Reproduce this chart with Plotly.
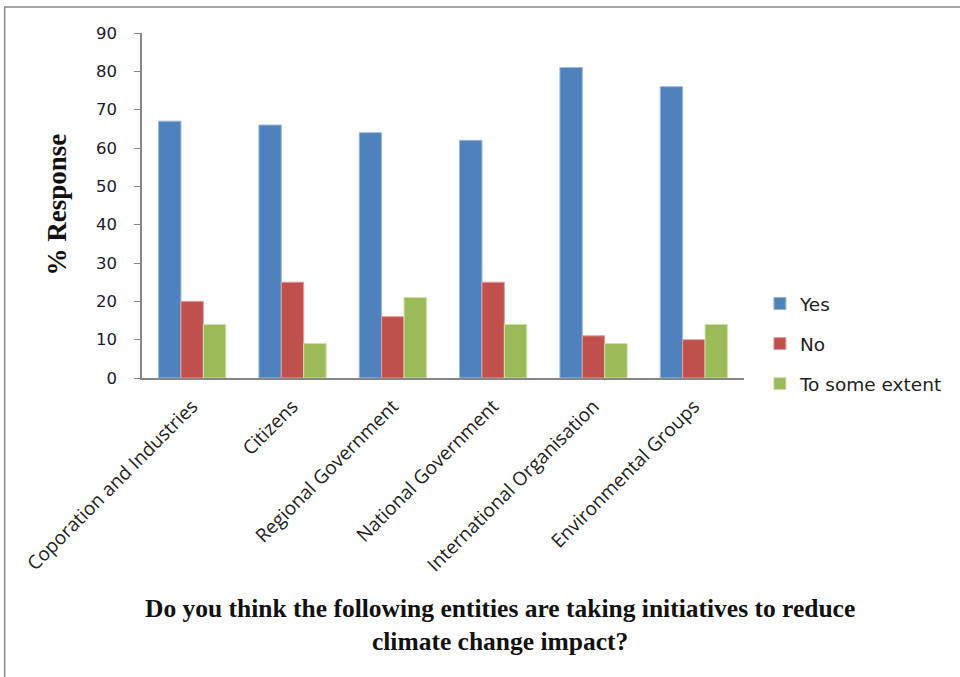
import plotly.graph_objects as go

categories = ["Coporation and Industries", "Citizens", "Regional Government",
              "National Government", "International Organisation", "Environmental Groups"]
yes_vals = [67, 66, 64, 62, 81, 76]
no_vals = [20, 25, 16, 25, 11, 10]
some_vals = [14, 9, 21, 14, 9, 14]
y_ticks = [0, 10, 20, 30, 40, 50, 60, 70, 80, 90]

series = [("Yes", yes_vals, "#4F81BD", "#9DB9DD"),
          ("No", no_vals, "#C0504D", "#E0A09E"),
          ("To some extent", some_vals, "#9BBB59", "#CFE0AE")]

fig = go.Figure()
for i, (name, vals, col, edge) in enumerate(series):
    fig.add_trace(go.Bar(x=categories, y=vals, name=name, legendgroup=str(i),
                         marker=dict(color=col, line=dict(color=edge, width=1))))

L, R, T, B = 142, 213, 33, 299
W, H = 960, 677
pw, ph = W - L - R, H - T - B

def px(x):
    return (x - L) / pw

def py(y):
    return (H - B - y) / ph

fig.update_layout(
    width=W, height=H,
    margin=dict(l=L, r=R, t=T, b=B),
    paper_bgcolor="white", plot_bgcolor="white",
    barmode="group", bargap=0.33, bargroupgap=0,
    font=dict(family="DejaVu Sans", size=14, color="#222"),
    showlegend=True,
    legend=dict(x=px(763), y=py(285), xanchor="left", yanchor="top",
                font=dict(size=18.5, family="DejaVu Sans", color="#222"),
                tracegroupgap=13, itemwidth=30, bgcolor="rgba(0,0,0,0)"),
    xaxis=dict(showline=True, linecolor="#868686", linewidth=1.5,
               ticks="", tickangle=-45, showgrid=False, ticklabelstandoff=8,
               tickfont=dict(size=19, family="Open Sans", color="#222")),
    yaxis=dict(range=[0, 90], tickvals=y_ticks, showline=True, linecolor="#868686",
               linewidth=1.5, ticks="outside", ticklen=6, tickcolor="#868686",
               showgrid=False, zeroline=False, ticklabelstandoff=14,
               tickfont=dict(size=16.5, family="DejaVu Sans", color="#1a1a2e")),
    shapes=[dict(type="rect", xref="paper", yref="paper",
                 x0=px(4), x1=px(1000), y0=py(720), y1=py(7),
                 line=dict(color="#8a8a8a", width=1.5), fillcolor="rgba(0,0,0,0)")],
    annotations=[
        dict(text="<b>% Response</b>", xref="paper", yref="paper",
             x=px(57), y=py(204), xanchor="center", yanchor="middle",
             textangle=-90, showarrow=False,
             font=dict(family="Liberation Serif", size=27, color="#111")),
        dict(text="<b>Do you think the following entities are taking initiatives to reduce<br>climate change impact?</b>",
             xref="paper", yref="paper", x=px(502), y=py(625),
             xanchor="center", yanchor="middle", showarrow=False,
             font=dict(family="Liberation Serif", size=25.5, color="#111")),
    ],
)

fig.write_html("out.html")
